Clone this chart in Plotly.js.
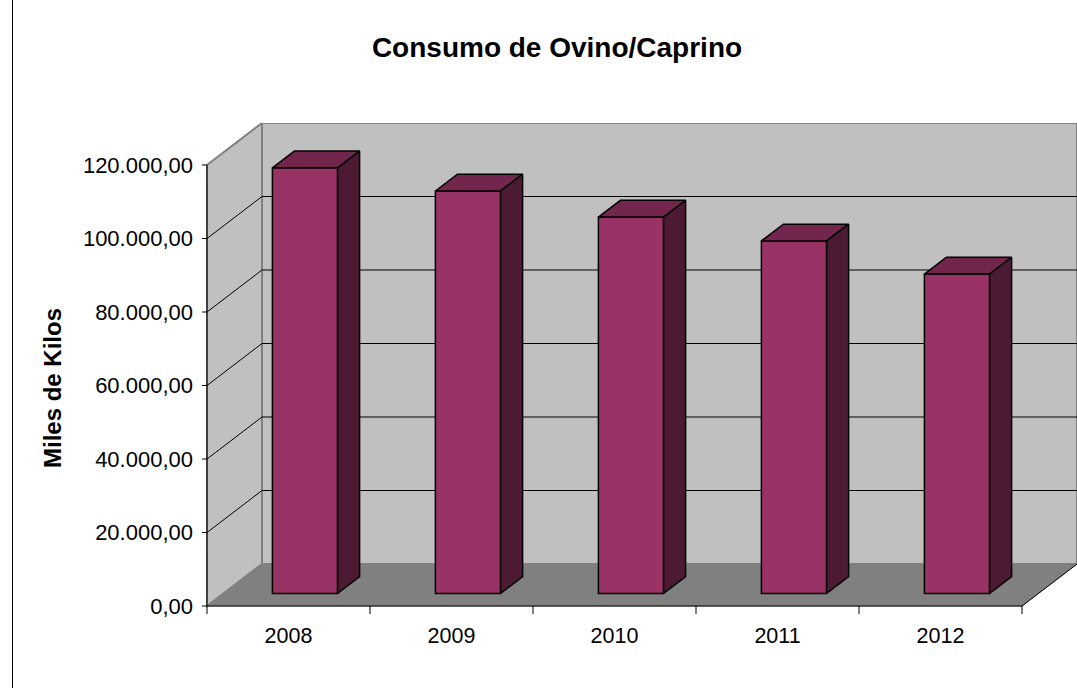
<!DOCTYPE html>
<html>
<head>
<meta charset="utf-8">
<script src="https://cdn.plot.ly/plotly-3.0.1.min.js"></script>
<style>html,body{margin:0;padding:0;background:#fff;}#chart{width:1077px;height:688px;}</style>
</head>
<body>
<div id="chart"></div>
<script>
// ---- data ----
const categories = ['2008', '2009', '2010', '2011', '2012'];
const values = [115800, 109500, 102400, 95900, 86900];
const yTicks = [0, 20000, 40000, 60000, 80000, 100000, 120000];
const chartTitle = 'Consumo de Ovino/Caprino';
const yTitle = 'Miles de Kilos';

// ---- geometry (pixels -> data units) ----
const W = 1077, H = 688;
const pxPerCat = 163;             // px per category on the front axis
const pxPerY = 73.5 / 20000;      // px per y unit
const plotL = 195, plotR = 1077, plotT = 123, plotB = 620;
const frontX0 = 207, frontY0 = 606;
const xMin = -0.5 - (frontX0 - plotL) / pxPerCat;
const xMax = -0.5 + (plotR - frontX0) / pxPerCat;
const yMin = -(plotB - frontY0) / pxPerY;
const yMax = (frontY0 - plotT) / pxPerY;
const yTop = yTicks[yTicks.length - 1];
const nCat = categories.length;
const xLeft = -0.5, xRight = nCat - 0.5;
const depthDX = 55 / pxPerCat;     // wall depth in x units
const depthDY = 42 / pxPerY;       // wall depth in y units
const barFront = 0.3, barBack = 0.7, barWidth = 0.4;

const xs = categories.map((c, i) => i);
const f0x = barFront * depthDX, f0y = barFront * depthDY;
const ddx = (barBack - barFront) * depthDX, ddy = (barBack - barFront) * depthDY;

const shapes = [];
function path(pts) { return 'M' + pts.map(p => p[0] + ',' + p[1]).join('L') + 'Z'; }
// back wall
shapes.push({type: 'path', layer: 'below', xref: 'x', yref: 'y',
  path: path([[xLeft + depthDX, depthDY], [xRight + depthDX, depthDY], [xRight + depthDX, yTop + depthDY], [xLeft + depthDX, yTop + depthDY]]),
  fillcolor: '#C0C0C0', line: {color: '#808080', width: 2}});
// left wall
shapes.push({type: 'path', layer: 'below', xref: 'x', yref: 'y',
  path: path([[xLeft, 0], [xLeft + depthDX, depthDY], [xLeft + depthDX, yTop + depthDY], [xLeft, yTop]]),
  fillcolor: '#C0C0C0', line: {color: '#808080', width: 2}});
// gridlines on walls
yTicks.slice(1, -1).forEach(v => {
  shapes.push({type: 'line', layer: 'below', xref: 'x', yref: 'y', x0: xLeft + depthDX, x1: xRight + depthDX, y0: v + depthDY, y1: v + depthDY, line: {color: '#000', width: 1}});
  shapes.push({type: 'line', layer: 'below', xref: 'x', yref: 'y', x0: xLeft, x1: xLeft + depthDX, y0: v, y1: v + depthDY, line: {color: '#000', width: 1}});
});
// floor
shapes.push({type: 'path', layer: 'below', xref: 'x', yref: 'y',
  path: path([[xLeft, 0], [xRight, 0], [xRight + depthDX, depthDY], [xLeft + depthDX, depthDY]]),
  fillcolor: '#808080', line: {color: '#808080', width: 1}});
shapes.push({type: 'line', layer: 'above', xref: 'x', yref: 'y', x0: xRight, x1: xRight + depthDX, y0: 0, y1: depthDY, line: {color: '#000', width: 1}});
// axis lines
shapes.push({type: 'line', layer: 'above', xref: 'x', yref: 'y', x0: xLeft, x1: xLeft, y0: 0, y1: yTop, line: {color: '#000', width: 1}});
shapes.push({type: 'line', layer: 'above', xref: 'x', yref: 'y', x0: xLeft, x1: xRight, y0: 0, y1: 0, line: {color: '#000', width: 1}});
// y tick marks
yTicks.forEach(v => {
  shapes.push({type: 'line', layer: 'above', xref: 'x', yref: 'y', x0: xLeft - 5 / pxPerCat, x1: xLeft, y0: v, y1: v, line: {color: '#000', width: 1}});
});
// x tick marks at category boundaries
for (let i = 0; i <= nCat; i++) {
  shapes.push({type: 'line', layer: 'above', xref: 'x', yref: 'y', x0: i - 0.5, x1: i - 0.5, y0: 0, y1: -8 / pxPerY, line: {color: '#000', width: 1}});
}
// chart border (left)
const pw = plotR - plotL, ph = plotB - plotT;
shapes.push({type: 'line', layer: 'above', xref: 'paper', yref: 'paper', x0: (12.5 - plotL) / pw, x1: (12.5 - plotL) / pw, y0: (plotB - 0) / ph, y1: (plotB - H) / ph, line: {color: '#000', width: 1}});

const traces = [];
// front faces
traces.push({type: 'bar', x: xs, y: values, base: xs.map(() => f0y), width: barWidth, offset: f0x - barWidth / 2,
  marker: {color: '#993366', line: {color: '#000', width: 1.5}}, hoverinfo: 'skip', showlegend: false});
// top & side faces
xs.forEach((x, i) => {
  const xl = x + f0x - barWidth / 2, xr = xl + barWidth;
  const top = f0y + values[i];
  traces.push({type: 'scatter', mode: 'lines', fill: 'toself', fillcolor: '#73264D',
    x: [xl, xr, xr + ddx, xl + ddx, xl], y: [top, top, top + ddy, top + ddy, top],
    line: {color: '#000', width: 1.5}, hoverinfo: 'skip', showlegend: false});
  traces.push({type: 'scatter', mode: 'lines', fill: 'toself', fillcolor: '#4D1A33',
    x: [xr, xr, xr + ddx, xr + ddx, xr], y: [f0y, top, top + ddy, f0y + ddy, f0y],
    line: {color: '#000', width: 1.5}, hoverinfo: 'skip', showlegend: false});
});

const font = 'Liberation Sans, Arial, sans-serif';
const layout = {
  width: W, height: H,
  margin: {l: plotL, r: W - plotR, t: plotT, b: H - plotB, pad: 0},
  paper_bgcolor: '#fff', plot_bgcolor: 'rgba(0,0,0,0)',
  separators: ',.',
  showlegend: false,
  title: {text: '<b>' + chartTitle + '</b>', font: {family: font, size: 28, color: '#000'},
    xref: 'container', yref: 'container', x: 557 / W, y: 1 - 47 / H, xanchor: 'center', yanchor: 'middle'},
  xaxis: {range: [xMin, xMax], showgrid: false, zeroline: false, showline: false, ticks: '',
    tickvals: xs, ticktext: categories, tickfont: {family: font, size: 21.5, color: '#000'}, fixedrange: true},
  yaxis: {range: [yMin, yMax], showgrid: false, zeroline: false, showline: false, ticks: '',
    tickvals: yTicks, tickformat: ',.2f', tickfont: {family: font, size: 22, color: '#000'}, ticklabelstandoff: 1, fixedrange: true},
  shapes: shapes,
  annotations: [{text: '<b>' + yTitle + '</b>', textangle: -90, xref: 'paper', yref: 'paper',
    x: (52 - plotL) / pw, y: (plotB - 388) / ph, xanchor: 'center', yanchor: 'middle', showarrow: false,
    font: {family: font, size: 24, color: '#000'}}]
};
Plotly.newPlot('chart', traces, layout, {displayModeBar: false, staticPlot: true});
</script>
</body>
</html>
